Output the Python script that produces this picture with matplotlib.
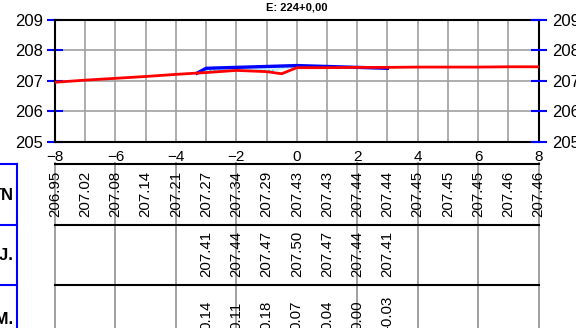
import numpy as np
import matplotlib
matplotlib.use('Agg')
import matplotlib.pyplot as plt

plt.rcParams['font.family'] = ['Liberation Sans Narrow', 'Liberation Sans', 'DejaVu Sans']

#
#   data
#
title = 'E: 224+0,00'
offsets = np.arange(-8, 9, 1)
tn_vals = [206.95, 207.02, 207.08, 207.14, 207.21, 207.27, 207.34, 207.29, 207.43,
           207.43, 207.44, 207.44, 207.45, 207.45, 207.45, 207.46, 207.46]
proj_x = [-3, -2, -1, 0, 1, 2, 3]
proj_vals = [207.41, 207.44, 207.47, 207.50, 207.47, 207.44, 207.41]
diff_vals = [0.14, 0.11, 0.18, 0.07, 0.04, 0.00, -0.03]

# terrain line, with the dip before the axis
tn_line_x = [-8, -7, -6, -5, -4, -3, -2, -1, -0.5, 0, 1, 2, 3, 4, 5, 6, 7, 8]
tn_line_y = [206.95, 207.02, 207.08, 207.14, 207.21, 207.27, 207.34, 207.30, 207.23, 207.43,
             207.43, 207.44, 207.44, 207.45, 207.45, 207.45, 207.46, 207.46]
# project line, starts where it meets terrain
proj_line_x = [-3.3] + proj_x
proj_line_y = [207.25] + proj_vals

row_names = ['TN', 'PROJ.', 'DIM.']

#
#   figure
#
W, H = 576, 328
fig = plt.figure(figsize=(W / 100, H / 100), dpi=100)
xl, xr = 55, 538.5
yt, yb = 20, 141.5
ax = fig.add_axes([xl / W, 1 - yb / H, (xr - xl) / W, (yb - yt) / H])

ax.plot(tn_line_x, tn_line_y, color='#ff0000', lw=2.0, zorder=4)
ax.plot(proj_line_x, proj_line_y, color='#0000ff', lw=2.4, zorder=3)
xf = np.array(proj_line_x)
yf_tn = np.interp(xf, tn_line_x, tn_line_y)
ax.fill_between(xf, yf_tn, proj_line_y, where=np.array(proj_line_y) >= yf_tn,
                facecolor='#c8f4f8', edgecolor='#40c8e0', hatch='....', lw=0, zorder=2)

ax.set_xlim(-8, 8)
ax.set_ylim(205, 209)
ax.set_xticks(range(-8, 9, 2))
ax.set_xticks(offsets, minor=True)
ax.set_yticks(range(205, 210))
ax.set_xticklabels(['\u2212%d' % -v if v < 0 else '%d' % v for v in range(-8, 9, 2)])
ax.grid(which='both', color='#a0a0a0', lw=1.2, zorder=0)
ax.tick_params(axis='x', which='both', length=0, pad=6, labelsize=11)
ax.tick_params(axis='y', direction='inout', length=11, width=1.5, color='#0000ff',
               left=True, right=False, labelsize=12, pad=3)
for s in ax.spines.values():
    s.set_linewidth(1.5)
ax.set_title(title, fontsize=8, fontweight='bold', family='Liberation Sans', pad=6.5)

# right-hand elevation scale
ax2 = ax.twinx()
ax2.set_ylim(205, 209)
ax2.set_yticks(range(205, 210))
ax2.tick_params(axis='y', direction='inout', length=11, width=1.5, color='#0000ff',
                labelsize=12, pad=4.2)
for s in ax2.spines.values():
    s.set_visible(False)

#
#   table under the profile (y in pixel rows)
#
tax = fig.add_axes([xl / W, 0, (xr - xl) / W, 1 - yb / H])
tax.set_xlim(-8, 8)
tax.set_ylim(H, yb)
tax.axis('off')

row_lines = [163.5, 224.5, 285]
for yy in row_lines:
    tax.plot([-8, 8], [yy, yy], color='black', lw=1.5, clip_on=False)
for xv in range(-8, 9, 2):
    if xv == 0:
        continue
    tax.plot([xv, xv], [163, H], color='#a0a0a0', lw=1.4, clip_on=False, zorder=0)

fs = 10.8
for x, v in zip(offsets, tn_vals):
    tax.text(x, 217, '%.2f' % v, rotation=90, ha='center', va='bottom', fontsize=fs)
for x, v in zip(proj_x, proj_vals):
    tax.text(x, 277, '%.2f' % v, rotation=90, ha='center', va='bottom', fontsize=fs)
for x, v in zip(proj_x, diff_vals):
    tax.text(x, 330, '%.2f' % v, rotation=90, ha='center', va='bottom', fontsize=fs,
             clip_on=False)

# row captions, boxed in blue at the left edge
px = 16 / (xr - xl)
xbox = -8 + (17 - xl) * px
xtxt = -8 + (14 - xl) * px
for yy in row_lines:
    tax.plot([-8 - xl * px - 1, xbox], [yy, yy], color='#0000ff', lw=1.5, clip_on=False)
tax.plot([xbox, xbox], [163.5, H + 5], color='#0000ff', lw=1.5, clip_on=False)
row_mid = [195, 256, 320]
for name, yy in zip(row_names, row_mid):
    tax.text(xtxt, yy, name, ha='right', va='center', fontsize=12, fontweight='bold',
             clip_on=False)

fig.savefig('out.png', dpi=100)
